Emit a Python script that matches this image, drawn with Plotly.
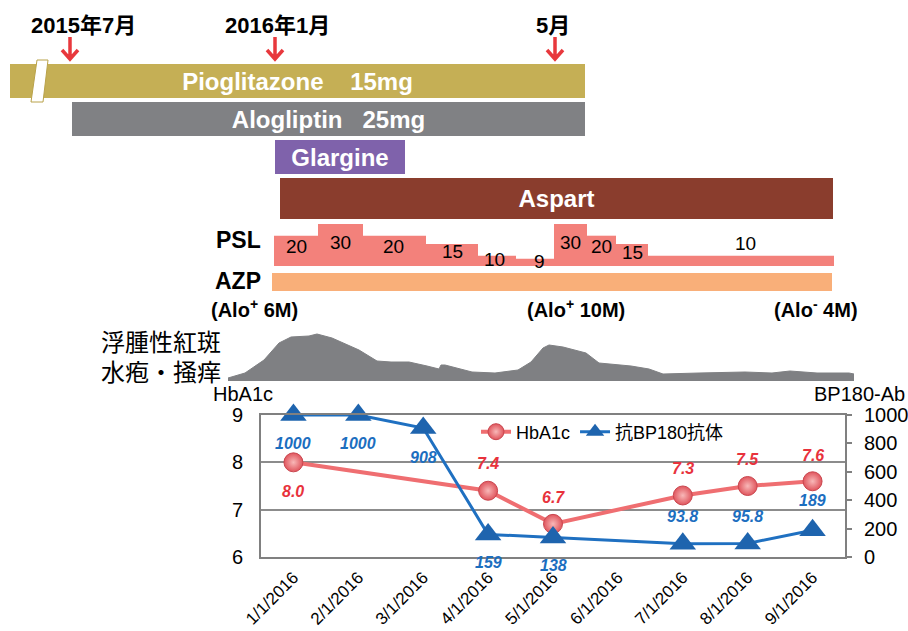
import math
import plotly.graph_objects as go

W, H = 908, 631
FONT = "Liberation Sans, Arial, Noto Sans CJK JP, sans-serif"

# ---------------- lower chart data ----------------
dates = ["1/1/2016", "2/1/2016", "3/1/2016", "4/1/2016", "5/1/2016",
         "6/1/2016", "7/1/2016", "8/1/2016", "9/1/2016"]
hba1c = [8.0, None, None, 7.4, 6.7, None, 7.3, 7.5, 7.6]
bp180 = [1000, 1000, 908, 159, 138, None, 93.8, 95.8, 189]
hba1c_ticks = [6, 7, 8, 9]
bp180_ticks = [0, 200, 400, 600, 800, 1000]

# ---------------- timeline data (schematic position units) ----------------
drug_names = ["Pioglitazone\u00a0\u00a0\u00a0\u00a015mg", "Alogliptin\u00a0\u00a0\u00a025mg",
              "Glargine", "Aspart"]
drug_start = [10, 72, 275, 280]
drug_end = [585, 585, 405, 833]
azp_start, azp_end = 272, 832

psl_dose = [20, 30, 20, 15, 10, 9, 30, 20, 15, 10]
psl_change = [274, 318, 363, 426, 478, 516, 554, 587, 616, 648, 834]

skin_t = [228, 245, 264, 279, 291, 309, 317, 332, 359, 377, 391, 409, 427, 439, 441,
          445, 472, 495, 518, 531, 543, 549, 563, 586, 599, 631, 649, 663, 699, 745,
          772, 790, 817, 849, 854]
skin_score = [0.6, 1.6, 4.2, 7.6, 8.8, 9.0, 9.4, 8.6, 6.2, 4.0, 3.8, 3.8, 3.0, 2.4, 3.2,
              3.2, 1.8, 1.6, 2.2, 3.8, 6.6, 7.2, 6.8, 5.6, 3.6, 3.0, 2.4, 1.4, 1.6, 1.8,
              1.6, 2.0, 1.6, 1.6, 1.4]

milestones = ["2015年7月", "2016年1月", "5月"]
milestone_t = [70, 275, 555]

# ---------------- styles ----------------
lane_center = [81, 119, 157, 198.5]
lane_thick = [34, 34, 34, 41]
azp_lane, azp_thick = 282, 18
drug_colors = ["#C5AF55", "#808184", "#7F62AB", "#8A3D2D"]
AZP_COLOR = "#F9AF79"
PSL_COLOR = "#F3817B"
psl_base = 7
psl_label_dy = [-11, -18, -11, -7, -4, -3, -18, -11, -8, 12]
psl_label_dx = [0, 0, -1, 0, -3, 4, 0, 0, 0, 4]
milestone_dx = [13, 2, -2]
RED_LBL = "#E8323C"
BLUE_LBL = "#1C6EBF"
hba1c_label_dy = [-29, None, None, 27, 26, None, 27, 27, 26]
bp180_label_dy = [-28, -28, -29, -28, -28, None, 27, 27, 30]

fig = go.Figure()

# drug bars
fig.add_trace(go.Bar(
    orientation="h", y=lane_center, base=drug_start,
    x=[e - s for s, e in zip(drug_start, drug_end)], width=lane_thick,
    marker=dict(color=drug_colors, line=dict(width=0)),
    text=drug_names, textposition="inside", insidetextanchor="middle", textangle=0,
    constraintext="none", textfont=dict(family=FONT, size=24, color="white", weight="bold"),
    xaxis="x3", yaxis="y3", showlegend=False, hoverinfo="skip"))
fig.add_trace(go.Bar(
    orientation="h", y=[azp_lane], base=[azp_start], x=[azp_end - azp_start],
    width=[azp_thick], marker=dict(color=AZP_COLOR, line=dict(width=0)),
    xaxis="x3", yaxis="y3", showlegend=False, hoverinfo="skip"))

# PSL steps
psl_center = [(a + b) / 2 for a, b in zip(psl_change[:-1], psl_change[1:])]
psl_width = [b - a for a, b in zip(psl_change[:-1], psl_change[1:])]
fig.add_trace(go.Bar(
    x=psl_center, y=[d - psl_base for d in psl_dose], base=psl_base, width=psl_width,
    marker=dict(color=PSL_COLOR, line=dict(width=0)),
    xaxis="x3", yaxis="y4", showlegend=False, hoverinfo="skip"))

# skin symptom silhouette
fig.add_trace(go.Scatter(
    x=skin_t, y=skin_score, mode="lines", fill="tozeroy", fillcolor="#7F8083",
    line=dict(color="#7F8083", width=1), xaxis="x3", yaxis="y5",
    showlegend=False, hoverinfo="skip"))

# lower chart
fig.add_trace(go.Scatter(
    x=dates, y=hba1c, name="HbA1c", mode="lines+markers", connectgaps=True,
    line=dict(color="#EF6E71", width=4), cliponaxis=False,
    marker=dict(symbol="circle", size=19, color="#E0555D",
                gradient=dict(type="radial", color="#F8B8B8"),
                line=dict(color="#C9464E", width=1)),
    xaxis="x", yaxis="y"))
fig.add_trace(go.Scatter(
    x=dates, y=bp180, name="抗BP180抗体", mode="lines+markers", connectgaps=True,
    line=dict(color="#1F70C1", width=3), cliponaxis=False,
    marker=dict(symbol="triangle-up", size=23, color="#1E64AE"),
    xaxis="x", yaxis="y2"))

ann = []


def px(x):
    return x / W


def py(y):
    return 1 - y / H


def text_ann(t, x, y, size, xanchor="center", bold=False, color="black"):
    ann.append(dict(text=t, x=px(x), y=py(y), xref="paper", yref="paper",
                    xanchor=xanchor, yanchor="middle", showarrow=False,
                    font=dict(family=FONT, size=size, color=color,
                              weight="bold" if bold else "normal")))


# milestone labels and arrows
shapes = []
for name, t, dx in zip(milestones, milestone_t, milestone_dx):
    ann.append(dict(text=name, x=t, y=25, xref="x3", yref="y3", xshift=dx,
                    xanchor="center", yanchor="middle", showarrow=False,
                    font=dict(family=FONT, size=22, color="black", weight="bold")))
    shapes.append(dict(type="path", xref="x3", yref="y3",
                       path=f"M{t},37 L{t},59 M{t-8},50 L{t},59 L{t+8},50",
                       line=dict(color="#E8383D", width=3.5)))

# break mark on pioglitazone bar
shapes.append(dict(type="path", xref="x3", yref="y3",
                   path="M37,60 L48,60 L43,102 L31,102 Z",
                   fillcolor="white", line=dict(color="#B9A24A", width=1)))

# PSL labels
for c, d, dy, dx in zip(psl_center, psl_dose, psl_label_dy, psl_label_dx):
    ann.append(dict(text=str(d), x=c, y=math.log10(d), xref="x3", yref="y4",
                    xshift=dx, yshift=dy, xanchor="center", yanchor="middle",
                    showarrow=False, font=dict(family=FONT, size=19, color="black")))

# side labels
text_ann("PSL", 263, 240, 23, "right", True)
text_ann("AZP", 263, 281, 23, "right", True)
text_ann("(Alo<sup>+</sup> 6M)", 254, 308, 20, "center", True)
text_ann("(Alo<sup>+</sup> 10M)", 576, 308, 20, "center", True)
text_ann("(Alo<sup>-</sup> 4M)", 816, 308, 20, "center", True)
text_ann("浮腫性紅斑", 223, 342, 24, "right")
text_ann("水疱・掻痒", 223, 372, 24, "right")
text_ann("HbA1c", 211, 394, 20, "left")
text_ann("BP180-Ab", 907, 394, 20, "right")

# data labels
for d, v, dy in zip(dates, hba1c, hba1c_label_dy):
    if v is None:
        continue
    ann.append(dict(text=f"{v:.1f}", x=d, y=v, xref="x", yref="y", yshift=dy,
                    showarrow=False, xanchor="center", yanchor="middle",
                    font=dict(family=FONT, size=16, color=RED_LBL, weight="bold",
                              style="italic")))
for d, v, dy in zip(dates, bp180, bp180_label_dy):
    if v is None:
        continue
    ann.append(dict(text=f"{v:g}", x=d, y=v, xref="x", yref="y2", yshift=dy,
                    showarrow=False, xanchor="center", yanchor="middle",
                    font=dict(family=FONT, size=16, color=BLUE_LBL, weight="bold",
                              style="italic")))

hidden = dict(visible=False, automargin=False, showgrid=False, zeroline=False)
fig.update_layout(
    template="none",
    width=W, height=H, margin=dict(l=0, r=0, t=0, b=0, pad=0),
    paper_bgcolor="white", plot_bgcolor="rgba(0,0,0,0)", barmode="overlay",
    font=dict(family=FONT, color="black"),
    xaxis=dict(domain=[261 / W, 845 / W], type="category", categoryorder="array",
               categoryarray=dates, range=[-0.5, 8.5], showline=True, mirror=True,
               linecolor="#808080", linewidth=2, showgrid=False, zeroline=False,
               tickangle=-45, tickfont=dict(size=17, color="black"), ticks="",
               anchor="y", automargin=False, ticklabelstandoff=2),
    yaxis=dict(domain=[(H - 557) / H, (H - 415) / H], range=[6, 9], tickvals=hba1c_ticks,
               showline=True, mirror=True, linecolor="#808080", linewidth=2,
               showgrid=True, gridcolor="#8C8C8C", gridwidth=1.5, zeroline=False,
               tickfont=dict(size=20, color="black"), ticks="", anchor="x",
               automargin=False, ticklabelstandoff=12),
    yaxis2=dict(overlaying="y", side="right", range=[0, 1000], tickvals=bp180_ticks,
                showgrid=False, zeroline=False, showline=False, ticks="outside", ticklen=6,
                tickcolor="#808080", tickwidth=1.5, tickfont=dict(size=20, color="black"),
                anchor="x", automargin=False, ticklabelstandoff=8),
    xaxis3=dict(domain=[0, 1], range=[0, W], anchor="y3", **hidden),
    yaxis3=dict(domain=[0, 1], range=[H, 0], anchor="x3", **hidden),
    yaxis4=dict(domain=[(H - 266) / H, (H - 224) / H], type="log",
                range=[math.log10(psl_base), math.log10(30)], anchor="x3", **hidden),
    yaxis5=dict(domain=[(H - 381) / H, (H - 331) / H], range=[0, 10],
                anchor="x3", **hidden),
    legend=dict(orientation="h", x=476 / W, xanchor="left", y=py(432), yanchor="middle",
                bgcolor="rgba(0,0,0,0)", font=dict(size=18, color="black")),
    annotations=ann, shapes=shapes,
)

fig.write_html("out.html", config={"displayModeBar": False},
               post_script="document.body.style.margin='0';document.body.style.overflow='hidden';")
